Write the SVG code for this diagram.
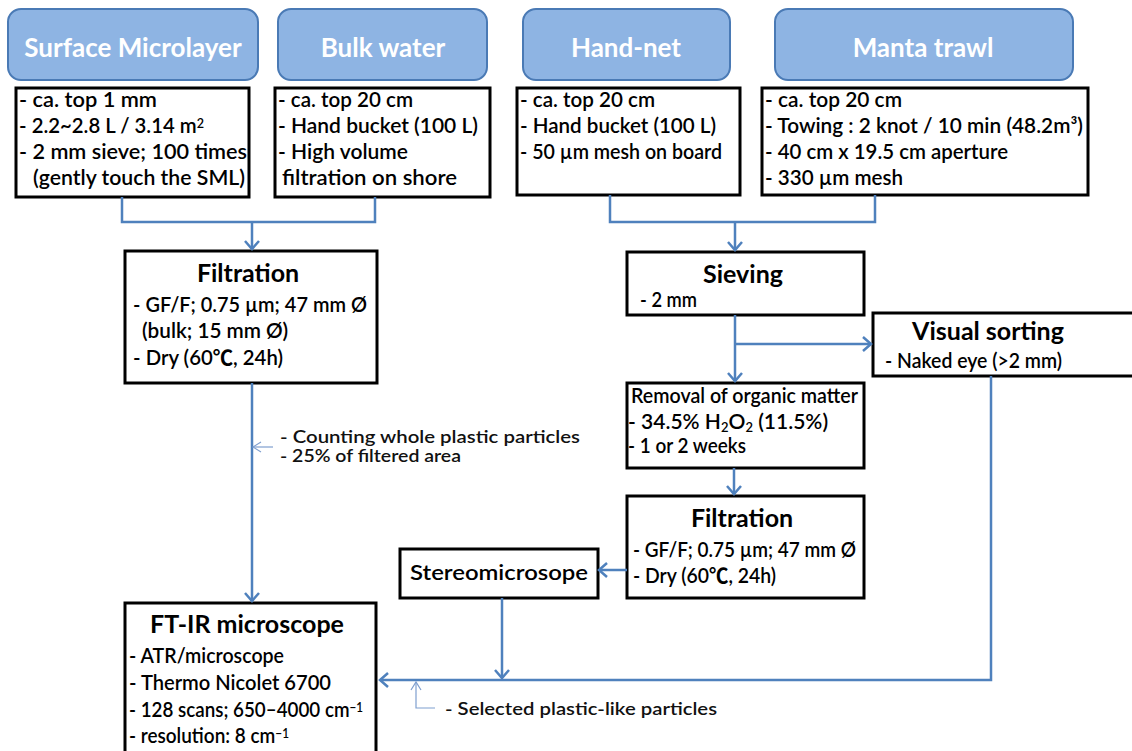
<svg xmlns="http://www.w3.org/2000/svg" width="1132" height="751" viewBox="0 0 1132 751">
<style>
.hdr{fill:#8EB4E3;stroke:#4A7AB5;stroke-width:2}
.hdrt{font-family:Lato,"Liberation Sans",sans-serif;font-weight:bold;font-size:26px;fill:#ffffff;text-anchor:middle}
.box{fill:#ffffff;stroke:#000000;stroke-width:3}
.t{font-family:Lato,"Noto Sans CJK KR",sans-serif;font-weight:600;font-size:21px;fill:#000000}
.ti{font-family:Lato,"Liberation Sans",sans-serif;font-weight:bold;font-size:25px;fill:#000000;text-anchor:middle}
.lab{font-family:Lato,"Liberation Sans",sans-serif;font-weight:600;font-size:17px;fill:#111111}
.c{fill:none;stroke:#4F81BD;stroke-width:2.5}
.thin{fill:none;stroke:#7F9FCF;stroke-width:1.2}
</style>
<defs>
<marker id="ah" markerUnits="userSpaceOnUse" markerWidth="12" markerHeight="18" viewBox="-1 -9 12 18" refX="9" refY="0" orient="auto">
<path d="M1,-7 L9,0 L1,7" fill="none" stroke="#4F81BD" stroke-width="2.5"/>
</marker>
<marker id="ahs" markerUnits="userSpaceOnUse" markerWidth="12" markerHeight="14" viewBox="-1 -7 12 14" refX="9" refY="0" orient="auto">
<path d="M1,-5 L9,0 L1,5" fill="none" stroke="#7F9FCF" stroke-width="1.2"/>
</marker>
</defs>
<rect width="1132" height="751" fill="#ffffff"/>

<g id="hdr-sml"><rect class="hdr" x="8" y="9" width="250" height="71" rx="13"/><text class="hdrt" x="133" y="57">Surface Microlayer</text></g>
<g id="hdr-bulk"><rect class="hdr" x="278" y="9" width="209" height="71" rx="13"/><text class="hdrt" x="383" y="57">Bulk water</text></g>
<g id="hdr-handnet"><rect class="hdr" x="523" y="9" width="207" height="71" rx="13"/><text class="hdrt" x="626" y="57">Hand-net</text></g>
<g id="hdr-manta"><rect class="hdr" x="775" y="9" width="298" height="71" rx="13"/><text class="hdrt" x="923" y="57">Manta trawl</text></g>

<g id="box-sml"><rect class="box" x="16" y="88" width="233" height="109"/>
<text class="t" x="19" y="107" textLength="138" lengthAdjust="spacingAndGlyphs">- ca. top 1 mm</text>
<text class="t" x="19" y="133" textLength="185" lengthAdjust="spacingAndGlyphs">- 2.2~2.8 L / 3.14 m<tspan font-size="13" dy="-5">2</tspan></text>
<text class="t" x="19" y="159" textLength="228" lengthAdjust="spacingAndGlyphs">- 2 mm sieve; 100 times</text>
<text class="t" x="33" y="185" textLength="212" lengthAdjust="spacingAndGlyphs">(gently touch the SML)</text></g>

<g id="box-bulk"><rect class="box" x="275" y="88" width="215" height="109"/>
<text class="t" x="278" y="107" textLength="135" lengthAdjust="spacingAndGlyphs">- ca. top 20 cm</text>
<text class="t" x="278" y="133" textLength="200" lengthAdjust="spacingAndGlyphs">- Hand bucket  (100 L)</text>
<text class="t" x="278" y="159" textLength="130" lengthAdjust="spacingAndGlyphs">- High volume</text>
<text class="t" x="282" y="185" textLength="175" lengthAdjust="spacingAndGlyphs">filtration on shore</text></g>

<g id="box-handnet"><rect class="box" x="517" y="88" width="223" height="107"/>
<text class="t" x="520" y="107" textLength="135" lengthAdjust="spacingAndGlyphs">- ca. top 20 cm</text>
<text class="t" x="520" y="133" textLength="196" lengthAdjust="spacingAndGlyphs">- Hand bucket (100 L)</text>
<text class="t" x="520" y="159" textLength="202" lengthAdjust="spacingAndGlyphs">- 50 µm mesh on board</text></g>

<g id="box-manta"><rect class="box" x="762" y="88" width="326" height="107"/>
<text class="t" x="765" y="107" textLength="137" lengthAdjust="spacingAndGlyphs">- ca. top 20 cm</text>
<text class="t" x="765" y="133" textLength="318" lengthAdjust="spacingAndGlyphs">- Towing : 2 knot / 10 min (48.2m³)</text>
<text class="t" x="765" y="159" textLength="243" lengthAdjust="spacingAndGlyphs">- 40 cm x 19.5 cm aperture</text>
<text class="t" x="765" y="185" textLength="138" lengthAdjust="spacingAndGlyphs">- 330 µm mesh</text></g>

<g id="filtration1"><rect class="box" x="125" y="251" width="252" height="132"/>
<text class="ti" x="248" y="282">Filtration</text>
<text class="t" x="133" y="312" textLength="234" lengthAdjust="spacingAndGlyphs">- GF/F; 0.75 µm; 47 mm Ø</text>
<text class="t" x="142" y="338" textLength="146" lengthAdjust="spacingAndGlyphs">(bulk; 15 mm Ø)</text>
<text class="t" x="133" y="365" textLength="150" lengthAdjust="spacingAndGlyphs">- Dry (60℃, 24h)</text></g>

<g id="sieving"><rect class="box" x="627" y="252" width="237" height="63"/>
<text class="ti" x="743" y="283">Sieving</text>
<text class="t" x="640" y="307" textLength="57" lengthAdjust="spacingAndGlyphs">- 2 mm</text></g>

<g id="visual"><rect class="box" x="873" y="313" width="270" height="63"/>
<text class="ti" x="988" y="340">Visual sorting</text>
<text class="t" x="885" y="368" textLength="177" lengthAdjust="spacingAndGlyphs">- Naked eye (&gt;2 mm)</text></g>

<g id="removal"><rect class="box" x="627" y="383" width="237" height="85"/>
<text class="t" x="631" y="403" textLength="227" lengthAdjust="spacingAndGlyphs">Removal of organic matter</text>
<text class="t" x="628" y="429">- 34.5% H<tspan font-size="13" dy="3">2</tspan><tspan dy="-3">O</tspan><tspan font-size="13" dy="3">2</tspan><tspan dy="-3"> (11.5%)</tspan></text>
<text class="t" x="628" y="453" textLength="118" lengthAdjust="spacingAndGlyphs">- 1 or 2 weeks</text></g>

<g id="filtration2"><rect class="box" x="627" y="496" width="237" height="102"/>
<text class="ti" x="742" y="527">Filtration</text>
<text class="t" x="633" y="557" textLength="223" lengthAdjust="spacingAndGlyphs">- GF/F; 0.75 µm; 47 mm Ø</text>
<text class="t" x="633" y="583" textLength="143" lengthAdjust="spacingAndGlyphs">- Dry (60℃, 24h)</text></g>

<g id="stereo"><rect class="box" x="400" y="549" width="198" height="49"/>
<text class="t" x="410" y="580" font-size="22" textLength="178" lengthAdjust="spacingAndGlyphs">Stereomicrosope</text></g>

<g id="ftir"><rect class="box" x="125" y="603" width="251" height="160"/>
<text class="ti" x="247" y="633" font-size="27">FT-IR microscope</text>
<text class="t" x="129" y="663" textLength="155" lengthAdjust="spacingAndGlyphs">- ATR/microscope</text>
<text class="t" x="129" y="690" textLength="202" lengthAdjust="spacingAndGlyphs">- Thermo Nicolet 6700</text>
<text class="t" x="129" y="717" textLength="234" lengthAdjust="spacingAndGlyphs">- 128 scans; 650–4000 cm<tspan font-size="13" dy="-5">−1</tspan></text>
<text class="t" x="129" y="743" textLength="160" lengthAdjust="spacingAndGlyphs">- resolution: 8 cm<tspan font-size="13" dy="-5">−1</tspan></text></g>

<g id="labels">
<text class="lab" x="280" y="443" textLength="300" lengthAdjust="spacingAndGlyphs">- Counting whole plastic particles</text>
<text class="lab" x="280" y="462" textLength="181" lengthAdjust="spacingAndGlyphs">- 25% of filtered area</text>
<text class="lab" x="445" y="715" font-size="18" textLength="272" lengthAdjust="spacingAndGlyphs">- Selected plastic-like particles</text>
</g>

<g id="connectors">
<polyline class="c" points="122,197 122,222 375,222 375,197"/>
<line class="c" x1="252" y1="222" x2="252" y2="249" marker-end="url(#ah)"/>
<polyline class="c" points="610,195 610,222 875,222 875,195"/>
<line class="c" x1="735" y1="222" x2="735" y2="250" marker-end="url(#ah)"/>
<line class="c" x1="735" y1="315" x2="735" y2="381" marker-end="url(#ah)"/>
<line class="c" x1="735" y1="344" x2="871" y2="344" marker-end="url(#ah)"/>
<line class="c" x1="734" y1="468" x2="734" y2="494" marker-end="url(#ah)"/>
<line class="c" x1="627" y1="570" x2="599" y2="570" marker-end="url(#ah)"/>
<line class="c" x1="502" y1="598" x2="502" y2="678" marker-end="url(#ah)"/>
<polyline class="c" points="991,376 991,680 380,680" marker-end="url(#ah)"/>
<line class="c" x1="252" y1="383" x2="252" y2="601" marker-end="url(#ah)"/>
<line class="thin" x1="273" y1="447" x2="253" y2="447" marker-end="url(#ahs)"/>
<polyline class="thin" points="435,708 416,708 416,682" marker-end="url(#ahs)"/>
</g>
</svg>
